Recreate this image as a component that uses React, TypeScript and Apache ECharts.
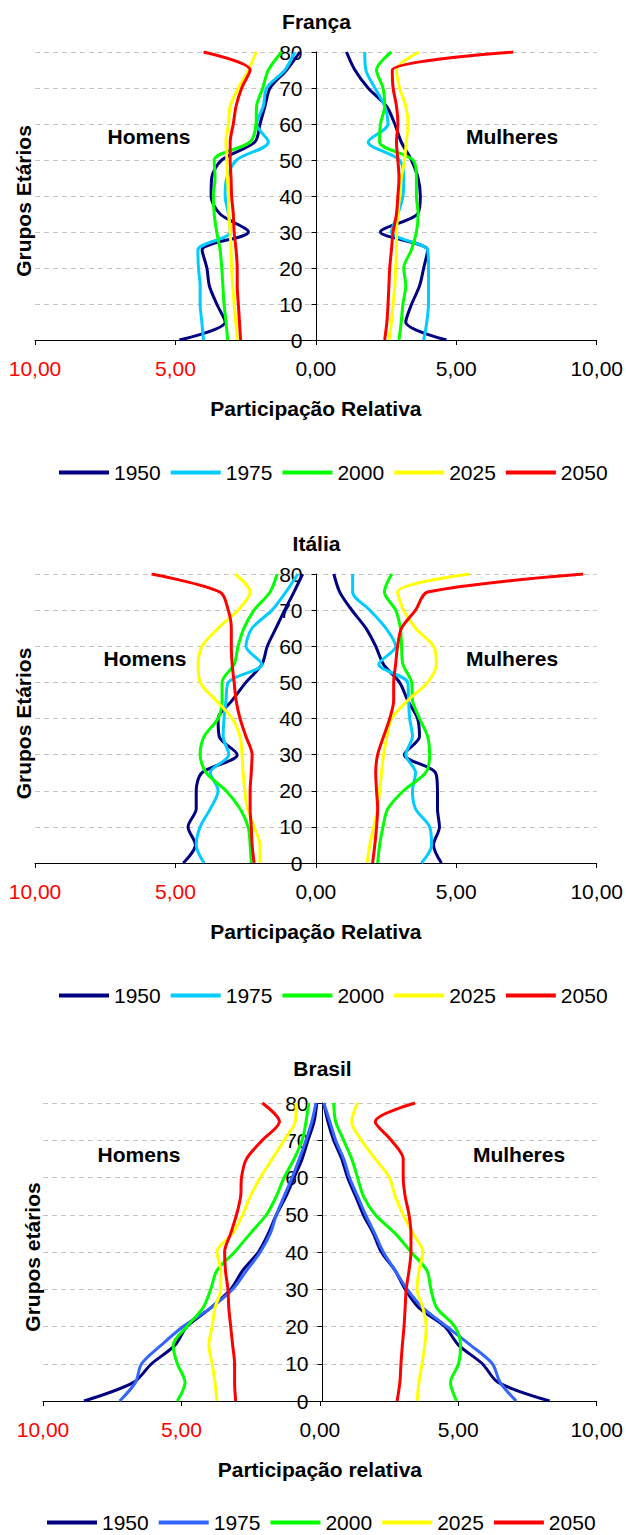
import React, { useEffect, useRef } from "react";
import * as echarts from "echarts";

const AGES = [0, 5, 10, 15, 20, 25, 30, 35, 40, 45, 50, 55, 60, 65, 70, 75, 80];
const YEARS = ["1950", "1975", "2000", "2025", "2050"];
const X_TICKS = [-10, -5, 0, 5, 10];

// França
const franceMen1950 = [4.86, 3.23, 3.53, 3.79, 3.88, 4.05, 2.4, 3.41, 3.73, 3.71, 3.35, 2.17, 1.99, 1.81, 1.63, 1.04, 0.57];
const franceMen1975 = [4.0, 4.06, 4.12, 4.12, 4.18, 4.2, 3.05, 3.11, 3.23, 3.17, 2.82, 1.69, 2.11, 1.87, 1.75, 1.1, 0.75];
const franceMen2000 = [3.14, 3.2, 3.27, 3.31, 3.35, 3.41, 3.53, 3.62, 3.65, 3.59, 3.62, 2.34, 2.13, 2.11, 1.89, 1.69, 1.22];
const franceMen2025 = [2.8, 2.85, 2.91, 2.96, 3.0, 3.02, 3.05, 3.1, 3.11, 3.15, 3.17, 3.2, 3.11, 3.05, 2.76, 2.4, 2.13];
const franceMen2050 = [2.68, 2.72, 2.76, 2.8, 2.8, 2.84, 2.91, 2.94, 3.0, 3.02, 3.05, 3.05, 2.94, 2.84, 2.64, 2.34, 4.0];
const franceWomen1950 = [4.65, 3.2, 3.41, 3.69, 3.84, 3.98, 2.3, 3.62, 3.72, 3.64, 3.4, 3.04, 2.81, 2.51, 1.86, 1.39, 1.09];
const franceWomen1975 = [3.84, 3.95, 4.01, 4.01, 4.01, 3.98, 2.69, 2.92, 3.1, 3.13, 2.98, 1.86, 2.57, 2.45, 2.1, 1.78, 1.74];
const franceWomen2000 = [2.96, 3.04, 3.1, 3.2, 3.13, 3.4, 3.58, 3.64, 3.58, 3.58, 3.46, 2.27, 2.3, 2.45, 2.39, 2.16, 2.69];
const franceWomen2025 = [2.6, 2.69, 2.75, 2.81, 2.84, 2.87, 2.87, 2.92, 2.98, 3.04, 3.16, 3.22, 3.28, 3.2, 2.98, 2.87, 3.67];
const franceWomen2050 = [2.45, 2.53, 2.57, 2.6, 2.63, 2.69, 2.75, 2.87, 2.92, 2.96, 2.92, 2.87, 2.92, 2.87, 2.75, 2.72, 7.03];

// Itália
const italyMen1950 = [4.72, 4.29, 4.55, 4.26, 4.26, 4.05, 2.8, 3.44, 3.48, 2.98, 2.49, 1.92, 1.73, 1.42, 1.11, 0.78, 0.47];
const italyMen1975 = [3.98, 4.26, 4.12, 3.76, 3.48, 3.76, 3.1, 3.3, 3.27, 3.2, 3.12, 1.92, 2.49, 2.27, 1.56, 1.07, 0.64];
const italyMen2000 = [2.3, 2.34, 2.41, 2.7, 3.2, 3.91, 4.12, 3.98, 3.48, 3.34, 3.34, 2.91, 2.77, 2.56, 2.2, 1.63, 1.38];
const italyMen2025 = [1.99, 1.99, 2.2, 2.44, 2.53, 2.59, 2.63, 2.7, 2.98, 3.55, 4.12, 4.19, 4.05, 3.48, 2.77, 2.34, 2.87];
const italyMen2050 = [2.2, 2.27, 2.3, 2.34, 2.34, 2.3, 2.27, 2.49, 2.7, 2.84, 2.91, 2.98, 3.01, 3.01, 3.12, 3.41, 5.85];
const italyWomen1950 = [4.47, 4.19, 4.4, 4.33, 4.33, 4.26, 3.15, 3.69, 3.62, 3.27, 2.98, 2.41, 2.13, 1.78, 1.28, 0.85, 0.64];
const italyWomen1975 = [3.76, 4.12, 4.05, 3.55, 3.44, 3.55, 3.2, 3.44, 3.34, 3.3, 3.27, 2.24, 2.84, 2.49, 1.92, 1.31, 1.31];
const italyWomen2000 = [2.2, 2.27, 2.39, 2.56, 3.12, 3.91, 4.05, 3.98, 3.69, 3.44, 3.41, 3.1, 3.05, 3.01, 2.84, 2.44, 2.7];
const italyWomen2025 = [1.82, 1.92, 2.06, 2.2, 2.27, 2.34, 2.41, 2.53, 2.7, 3.27, 3.98, 4.29, 4.19, 3.55, 3.12, 2.91, 5.47];
const italyWomen2050 = [2.02, 2.1, 2.16, 2.2, 2.16, 2.13, 2.2, 2.41, 2.63, 2.77, 2.77, 2.84, 2.91, 3.05, 3.55, 3.98, 9.52];

// Brasil
const brazilMen1950 = [8.52, 6.73, 6.08, 5.23, 4.8, 3.94, 3.22, 2.79, 2.22, 1.86, 1.57, 1.22, 0.93, 0.64, 0.43, 0.21, 0.11];
const brazilMen1975 = [7.23, 6.66, 6.44, 5.73, 4.94, 3.94, 3.15, 2.65, 2.15, 1.79, 1.57, 1.29, 1.0, 0.74, 0.5, 0.29, 0.14];
const brazilMen2000 = [5.15, 4.87, 5.15, 5.3, 4.8, 4.22, 3.94, 3.72, 3.08, 2.51, 1.93, 1.57, 1.29, 0.93, 0.64, 0.5, 0.4];
const brazilMen2025 = [3.72, 3.79, 3.89, 4.01, 3.89, 3.79, 3.58, 3.58, 3.72, 3.15, 2.79, 2.51, 2.15, 1.72, 1.29, 0.89, 0.86];
const brazilMen2050 = [3.04, 3.08, 3.08, 3.15, 3.22, 3.29, 3.32, 3.41, 3.44, 3.22, 3.01, 2.86, 2.83, 2.65, 2.08, 1.46, 2.08];
const brazilWomen1950 = [8.3, 6.44, 5.87, 5.01, 4.51, 3.58, 3.08, 2.72, 2.22, 1.93, 1.57, 1.29, 1.0, 0.79, 0.5, 0.29, 0.14];
const brazilWomen1975 = [7.09, 6.51, 6.23, 5.44, 4.58, 3.72, 3.15, 2.72, 2.29, 1.98, 1.65, 1.36, 1.07, 0.86, 0.57, 0.36, 0.14];
const brazilWomen2000 = [4.94, 4.72, 5.01, 5.08, 4.87, 4.22, 4.01, 3.87, 3.29, 2.72, 2.0, 1.57, 1.36, 1.15, 0.86, 0.57, 0.5];
const brazilWomen2025 = [3.51, 3.58, 3.69, 3.79, 3.84, 3.72, 3.51, 3.58, 3.72, 3.36, 3.01, 2.72, 2.51, 2.0, 1.5, 1.15, 1.36];
const brazilWomen2050 = [2.79, 2.89, 2.93, 2.98, 3.04, 3.08, 3.12, 3.22, 3.29, 3.29, 3.22, 3.08, 3.01, 3.01, 2.58, 2.0, 3.44];

const COLORS_EU = ["#000080", "#00CCFF", "#00FF00", "#FFFF00", "#FF0000"];
const COLORS_BR = ["#000080", "#3366FF", "#00FF00", "#FFFF00", "#FF0000"];

const FONT = "'Liberation Sans', Arial, sans-serif";

const PANELS = [
  {
    title: "França",
    titleY: 21,
    grid: { left: 35, top: 52, width: 563, height: 288 },
    xName: "Participação Relativa",
    yName: "Grupos Etários",
    yNameX: 23,
    homens: [149, 136],
    mulheres: [512, 136],
    legendTop: 462,
    legendLeft: 59,
    colors: COLORS_EU,
    men: [franceMen1950, franceMen1975, franceMen2000, franceMen2025, franceMen2050],
    women: [franceWomen1950, franceWomen1975, franceWomen2000, franceWomen2025, franceWomen2050],
  },
  {
    title: "Itália",
    titleY: 543,
    grid: { left: 35, top: 574, width: 563, height: 289 },
    xName: "Participação Relativa",
    yName: "Grupos Etários",
    yNameX: 23,
    homens: [145, 658],
    mulheres: [512, 658],
    legendTop: 985,
    legendLeft: 59,
    colors: COLORS_EU,
    men: [italyMen1950, italyMen1975, italyMen2000, italyMen2025, italyMen2050],
    women: [italyWomen1950, italyWomen1975, italyWomen2000, italyWomen2025, italyWomen2050],
  },
  {
    title: "Brasil",
    titleY: 1068,
    grid: { left: 43, top: 1103, width: 559, height: 298 },
    xName: "Participação relativa",
    yName: "Grupos etários",
    yNameX: 32,
    homens: [139, 1154],
    mulheres: [519, 1154],
    legendTop: 1512,
    legendLeft: 47,
    colors: COLORS_BR,
    men: [brazilMen1950, brazilMen1975, brazilMen2000, brazilMen2025, brazilMen2050],
    women: [brazilWomen1950, brazilWomen1975, brazilWomen2000, brazilWomen2025, brazilWomen2050],
  },
];

function fmt(v: number) {
  const s = Math.abs(v).toFixed(2).replace(".", ",");
  return v < 0 ? "{r|" + s + "}" : "{b|" + s + "}";
}

function buildOption() {
  const grids: any[] = [];
  const xAxes: any[] = [];
  const yAxes: any[] = [];
  const series: any[] = [];
  const legends: any[] = [];
  const graphics: any[] = [];

  PANELS.forEach((p, gi) => {
    grids.push({ ...p.grid, containLabel: false });
    xAxes.push({
      type: "value",
      gridIndex: gi,
      min: X_TICKS[0],
      max: X_TICKS[X_TICKS.length - 1],
      interval: 5,
      name: p.xName,
      nameLocation: "middle",
      nameGap: 58,
      nameTextStyle: { fontFamily: FONT, fontSize: 21, fontWeight: "bold", color: "#000", verticalAlign: "top" },
      axisLine: { show: true, onZero: false, lineStyle: { color: "#000", width: 1 } },
      axisTick: { show: true, length: 5, lineStyle: { color: "#000" } },
      axisLabel: {
        margin: 18,
        formatter: fmt,
        rich: {
          r: { color: "#FF0000", fontSize: 21, fontFamily: FONT },
          b: { color: "#000", fontSize: 21, fontFamily: FONT },
        },
      },
      splitLine: { show: false },
    });
    yAxes.push({
      type: "value",
      gridIndex: gi,
      position: "left",
      offset: -p.grid.width / 2,
      min: 0,
      max: 80,
      interval: 10,
      axisLine: { show: true, onZero: false, lineStyle: { color: "#000", width: 1 } },
      axisTick: { show: true, length: 5, lineStyle: { color: "#000" } },
      axisLabel: { margin: 14, fontFamily: FONT, fontSize: 21, color: "#000" },
      splitLine: { show: true, lineStyle: { color: "#c4c4c4", type: [5, 4], width: 1 } },
    });
    YEARS.forEach((yr, i) => {
      const c = p.colors[i];
      const common = {
        type: "line",
        name: yr,
        xAxisIndex: gi,
        yAxisIndex: gi,
        showSymbol: false,
        symbol: "none",
        smooth: 0.3,
        lineStyle: { color: c, width: 3 },
        itemStyle: { color: c },
        z: 2 + i,
      };
      series.push({ ...common, data: AGES.map((a, k) => [-p.men[i][k], a]) });
      series.push({ ...common, data: AGES.map((a, k) => [p.women[i][k], a]) });
    });
    legends.push({
      top: p.legendTop,
      left: p.legendLeft,
      padding: 0,
      icon: "rect",
      itemWidth: 50,
      itemHeight: 4,
      itemGap: 10,
      textStyle: { fontFamily: FONT, fontSize: 21, color: "#000" },
      data: YEARS.map((yr, i) => ({ name: yr, itemStyle: { color: p.colors[i] }, lineStyle: { color: p.colors[i] } })),
      selectedMode: false,
    });
    graphics.push({
      type: "text",
      x: p.grid.left + p.grid.width / 2,
      y: p.titleY,
      style: { text: p.title, fontFamily: FONT, fontSize: 21, fontWeight: "bold", fill: "#000", textAlign: "center", textVerticalAlign: "middle" },
    });
    graphics.push({
      type: "text",
      x: p.homens[0],
      y: p.homens[1],
      style: { text: "Homens", fontFamily: FONT, fontSize: 21, fontWeight: "bold", fill: "#000", textAlign: "center", textVerticalAlign: "middle" },
    });
    graphics.push({
      type: "text",
      x: p.mulheres[0],
      y: p.mulheres[1],
      style: { text: "Mulheres", fontFamily: FONT, fontSize: 21, fontWeight: "bold", fill: "#000", textAlign: "center", textVerticalAlign: "middle" },
    });
    graphics.push({
      type: "text",
      x: p.yNameX,
      y: p.grid.top + p.grid.height / 2 + 5,
      rotation: Math.PI / 2,
      style: { text: p.yName, fontFamily: FONT, fontSize: 21, fontWeight: "bold", fill: "#000", textAlign: "center", textVerticalAlign: "middle" },
    });
  });

  return {
    animation: false,
    backgroundColor: "#fff",
    grid: grids,
    xAxis: xAxes,
    yAxis: yAxes,
    legend: legends,
    series,
    graphic: graphics,
  };
}

export default function App() {
  const ref = useRef<HTMLDivElement>(null);
  useEffect(() => {
    if (!ref.current) return;
    const chart = echarts.init(ref.current, null, { renderer: "svg" });
    chart.setOption(buildOption() as any);
    return () => chart.dispose();
  }, []);
  return (
    <div
      ref={ref}
      style={{ position: "absolute", left: 0, top: 0, width: 626, height: 1535, background: "#fff" }}
    />
  );
}
